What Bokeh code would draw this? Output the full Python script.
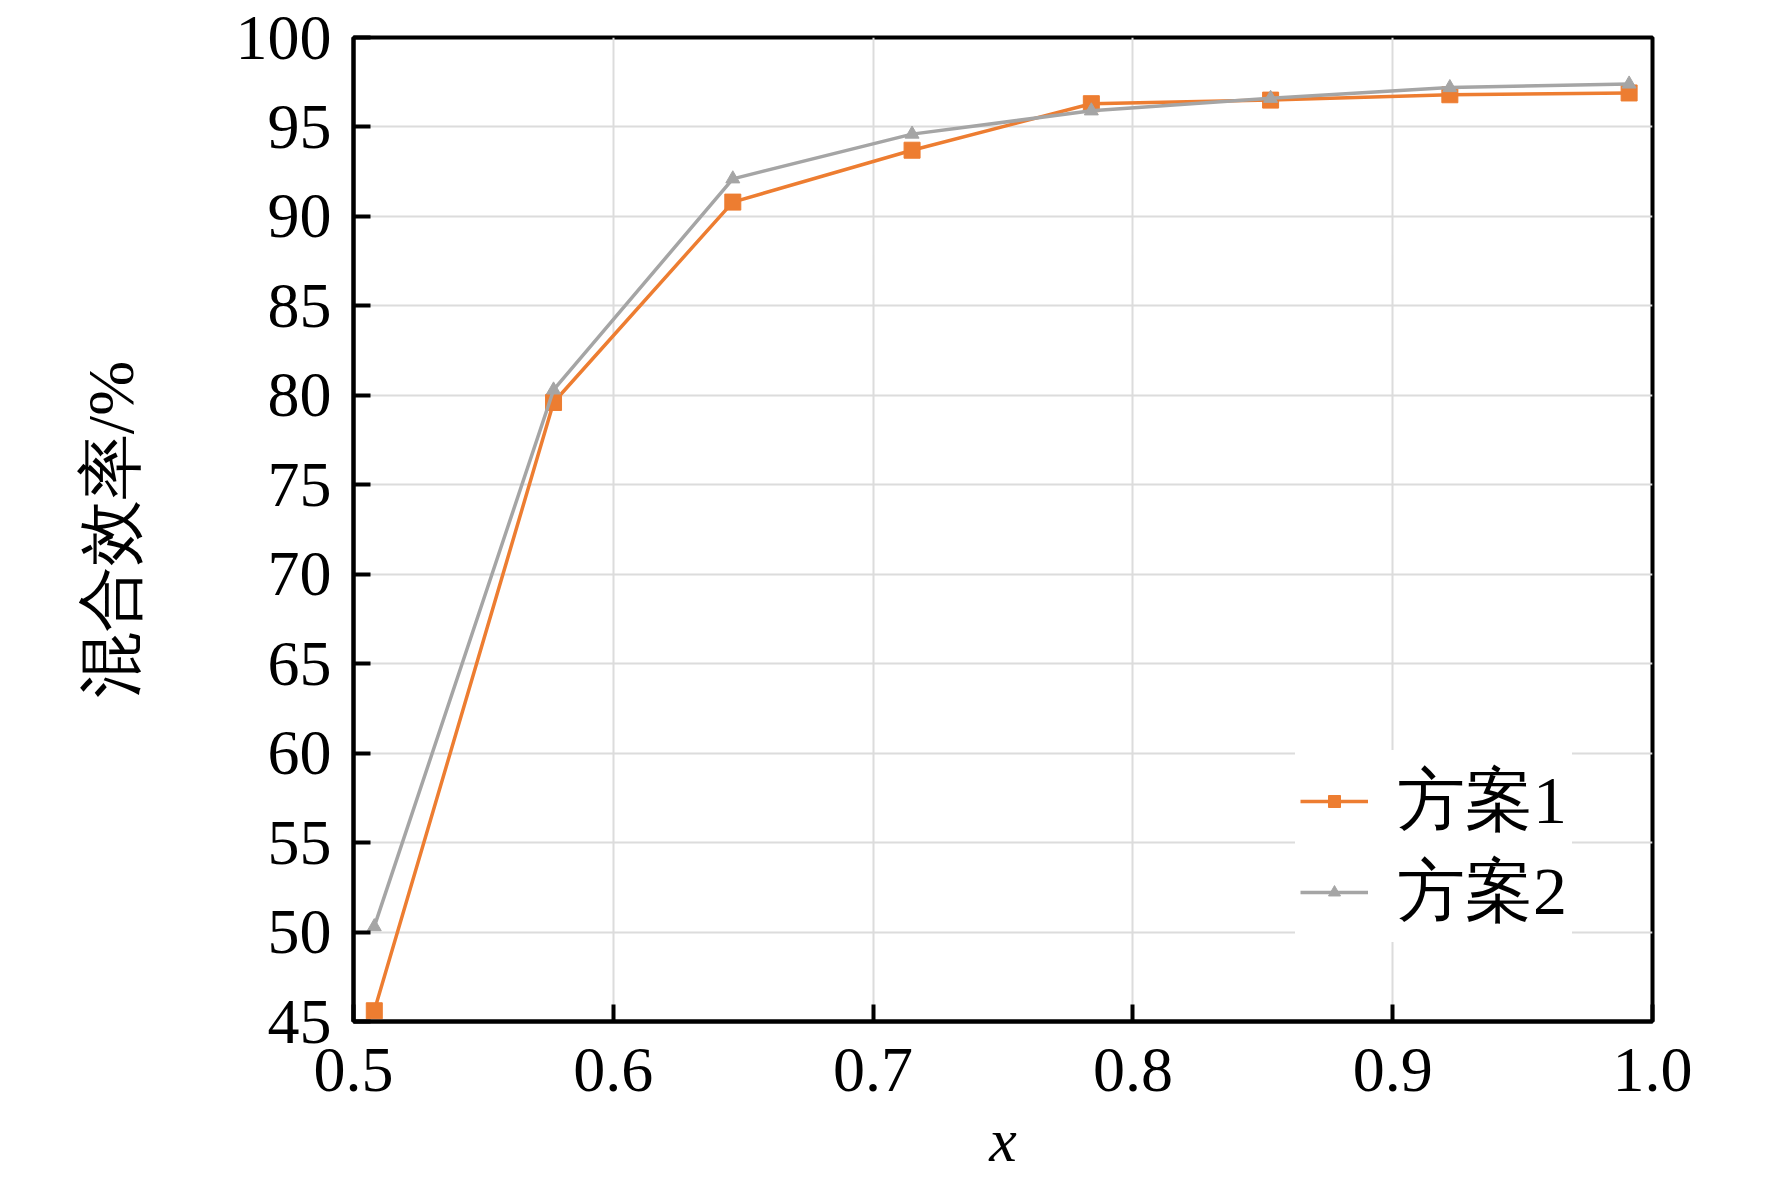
from bokeh.plotting import figure
from bokeh.models import Legend, LegendItem, FixedTicker, Range1d
from bokeh.embed import file_html
from bokeh.resources import INLINE

# ---- data ----
x_vals = [0.508, 0.577, 0.646, 0.715, 0.784, 0.853, 0.922, 0.991]
scheme1 = [45.6, 79.6, 90.8, 93.7, 96.3, 96.5, 96.8, 96.9]
scheme2 = [50.3, 80.3, 92.1, 94.6, 95.9, 96.6, 97.2, 97.4]
series_names = ["方案1", "方案2"]
x_ticks = [0.5, 0.6, 0.7, 0.8, 0.9, 1.0]
x_tick_labels = ["0.5", "0.6", "0.7", "0.8", "0.9", "1.0"]
y_ticks = [45, 50, 55, 60, 65, 70, 75, 80, 85, 90, 95, 100]
y_tick_labels = [str(v) for v in y_ticks]
x_label = "x"
y_label = "混合效率/%"

ORANGE = "#ED7D31"
GREY = "#A5A5A5"
SERIF = "Liberation Serif"

p = figure(width=1756, height=1176, output_backend="svg", toolbar_location=None,
           x_range=Range1d(0.5, 1.0), y_range=Range1d(45, 100),
           min_border_left=353, min_border_right=104, min_border_top=37,
           min_border_bottom=140, background_fill_color="white",
           border_fill_color="white")

p.outline_line_color = "black"
p.outline_line_width = 4
p.outline_line_alpha = 1

for ax in (p.xaxis[0], p.yaxis[0]):
    ax.axis_line_color = "black"
    ax.axis_line_width = 4
    ax.major_tick_in = 17
    ax.major_tick_out = 0
    ax.major_tick_line_width = 4
    ax.major_tick_line_color = "black"
    ax.minor_tick_line_color = None
    ax.major_label_text_font = SERIF
    ax.major_label_text_font_size = "64px"
    ax.major_label_text_color = "black"
    ax.axis_label_text_color = "black"

p.xaxis.ticker = FixedTicker(ticks=x_ticks)
p.xaxis.major_label_overrides = dict(zip(x_ticks, x_tick_labels))
p.yaxis.ticker = FixedTicker(ticks=y_ticks)
p.yaxis.major_label_overrides = dict(zip(y_ticks, y_tick_labels))
p.xaxis.major_label_standoff = 27
p.yaxis.major_label_standoff = 22

p.xaxis.axis_label = x_label
p.xaxis.axis_label_text_font = SERIF
p.xaxis.axis_label_text_font_style = "italic"
p.xaxis.axis_label_text_font_size = "62px"
p.xaxis.axis_label_standoff = 12

p.yaxis.axis_label = y_label
p.yaxis.axis_label_text_font = SERIF
p.yaxis.axis_label_text_font_style = "normal"
p.yaxis.axis_label_text_font_size = "66px"
p.yaxis.axis_label_standoff = 86

p.xgrid.grid_line_color = "#DCDCDC"
p.xgrid.grid_line_width = 2
p.ygrid.grid_line_color = "#DCDCDC"
p.ygrid.grid_line_width = 2

l1 = p.line(x_vals, scheme1, line_color=ORANGE, line_width=3.5)
m1 = p.scatter(x_vals, scheme1, marker="square", size=16, fill_color=ORANGE,
               line_color=ORANGE)
l2 = p.line(x_vals, scheme2, line_color=GREY, line_width=3.5)
m2 = p.scatter(x_vals, scheme2, marker="triangle", size=14, fill_color=GREY,
               line_color=GREY)

legend = Legend(items=[LegendItem(label=series_names[0], renderers=[l1, m1]),
                       LegendItem(label=series_names[1], renderers=[l2, m2])],
                location=(942, 79))
legend.background_fill_color = "white"
legend.background_fill_alpha = 1
legend.border_line_alpha = 0
legend.label_text_font = SERIF
legend.label_text_font_size = "68px"
legend.label_text_color = "black"
legend.glyph_width = 68
legend.glyph_height = 30
legend.label_standoff = 29
legend.padding = 5
legend.spacing = -2
legend.margin = 0
p.add_layout(legend)

open("out.html", "w").write(file_html(p, INLINE))
